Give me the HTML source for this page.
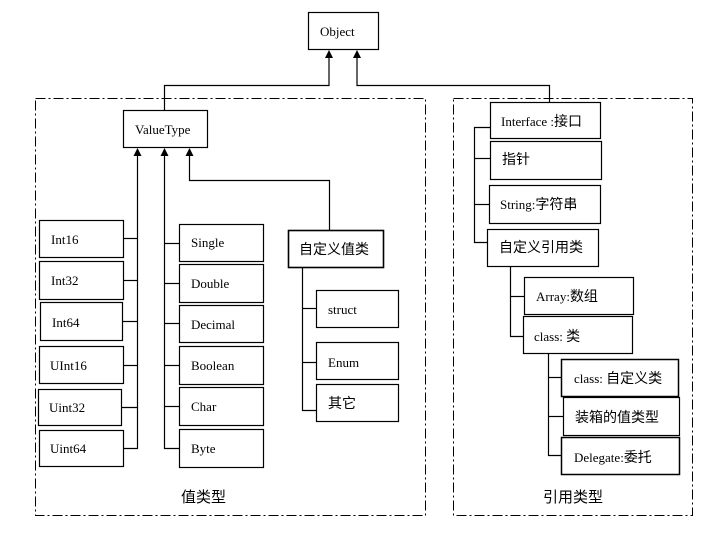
<!DOCTYPE html>
<html><head><meta charset="utf-8"><style>
html,body{margin:0;padding:0;background:#fff}
svg{display:block}
text{font-family:"Liberation Serif","Noto Serif CJK SC","Noto Sans CJK SC",serif;font-size:13px;fill:#000}
.c{font-family:"Liberation Serif","Noto Sans CJK SC",sans-serif;font-size:14px}
</style></head><body>
<svg width="720" height="540" viewBox="0 0 720 540" xmlns="http://www.w3.org/2000/svg">
<defs>
<marker id="a" markerWidth="8" markerHeight="8" refX="4" refY="0" orient="0" markerUnits="userSpaceOnUse">
</marker>
</defs>
<g fill="none" stroke="#000" stroke-width="1" stroke-dasharray="10,3,2,3">
<rect x="35.5" y="98.5" width="390" height="417"/>
<rect x="453.5" y="98.5" width="239" height="417"/>
</g>
<g fill="none" stroke="#000" stroke-width="1.2">
<!-- Object connectors -->
<polyline points="329,57 329,85.5 164.5,85.5 164.5,110"/>
<polyline points="357,57 357,85.5 549.5,85.5 549.5,102"/>
<!-- ValueType connectors -->
<polyline points="137.5,156 137.5,448.5 123,448.5"/>
<polyline points="164.5,156 164.5,448.5 179,448.5"/>
<polyline points="189.5,156 189.5,180.5 329.5,180.5 329.5,230"/>
<line x1="123" y1="238.5" x2="137.5" y2="238.5"/>
<line x1="123" y1="280.5" x2="137.5" y2="280.5"/>
<line x1="122" y1="321.5" x2="137.5" y2="321.5"/>
<line x1="123" y1="365.5" x2="137.5" y2="365.5"/>
<line x1="121" y1="407.5" x2="137.5" y2="407.5"/>
<line x1="164.5" y1="243.5" x2="179" y2="243.5"/>
<line x1="164.5" y1="283.5" x2="179" y2="283.5"/>
<line x1="164.5" y1="323.5" x2="179" y2="323.5"/>
<line x1="164.5" y1="365.5" x2="179" y2="365.5"/>
<line x1="164.5" y1="406.5" x2="179" y2="406.5"/>
<polyline points="302.5,267 302.5,410.5 316,410.5"/>
<line x1="302.5" y1="308.5" x2="316" y2="308.5"/>
<line x1="302.5" y1="362.5" x2="316" y2="362.5"/>
<!-- right -->
<polyline points="490,127.5 474.5,127.5 474.5,242.5 487,242.5"/>
<line x1="474.5" y1="158.5" x2="490" y2="158.5"/>
<line x1="474.5" y1="204.5" x2="489" y2="204.5"/>
<polyline points="510.5,266 510.5,336.5 523,336.5"/>
<line x1="510.5" y1="296.5" x2="524" y2="296.5"/>
<polyline points="548.5,353 548.5,455.5 561,455.5"/>
<line x1="548.5" y1="377.5" x2="561" y2="377.5"/>
<line x1="548.5" y1="416.5" x2="563" y2="416.5"/>
</g>
<g fill="#000">
<polygon points="329,50 325,58 333,58"/>
<polygon points="357,50 353,58 361,58"/>
<polygon points="137.5,148 133.5,156 141.5,156"/>
<polygon points="164.5,148 160.5,156 168.5,156"/>
<polygon points="189.5,148 185.5,156 193.5,156"/>
</g>
<g fill="#fff" stroke="#000" stroke-width="1.2">
<rect x="308.5" y="12.5" width="70" height="37"/>
<rect x="123.5" y="110.5" width="84" height="37"/>
<rect x="39.5" y="220.5" width="84" height="37"/>
<rect x="39.5" y="261.5" width="84" height="38"/>
<rect x="40.5" y="302.5" width="82" height="38"/>
<rect x="39.5" y="346.5" width="84" height="37"/>
<rect x="38.5" y="389.5" width="83" height="36"/>
<rect x="39.5" y="430.5" width="84" height="36"/>
<rect x="179.5" y="224.5" width="84" height="37"/>
<rect x="179.5" y="264.5" width="84" height="38"/>
<rect x="179.5" y="305.5" width="84" height="37"/>
<rect x="179.5" y="346.5" width="84" height="38"/>
<rect x="179.5" y="387.5" width="84" height="38"/>
<rect x="179.5" y="429.5" width="84" height="38"/>
<rect x="288.5" y="230.5" width="95" height="37" stroke-width="1.6"/>
<rect x="316.5" y="290.5" width="82" height="37"/>
<rect x="316.5" y="342.5" width="82" height="37"/>
<rect x="316.5" y="384.5" width="82" height="37"/>
<rect x="490.5" y="102.5" width="110" height="36"/>
<rect x="490.5" y="141.5" width="111" height="38"/>
<rect x="489.5" y="185.5" width="111" height="38"/>
<rect x="487.5" y="229.5" width="111" height="37"/>
<rect x="524.5" y="277.5" width="109" height="37"/>
<rect x="523.5" y="316.5" width="109" height="37"/>
<rect x="561.5" y="359.5" width="117" height="37" stroke-width="1.5"/>
<rect x="563.5" y="397.5" width="116" height="38"/>
<rect x="561.5" y="437.5" width="118" height="37" stroke-width="1.5"/>
</g>
<text x="320" y="36">Object</text>
<text x="135" y="134">ValueType</text>
<text x="51" y="244">Int16</text>
<text x="51" y="285">Int32</text>
<text x="52" y="327">Int64</text>
<text x="50" y="370">UInt16</text>
<text x="49" y="412">Uint32</text>
<text x="50" y="453">Uint64</text>
<text x="191" y="247">Single</text>
<text x="191" y="288">Double</text>
<text x="191" y="329">Decimal</text>
<text x="191" y="370">Boolean</text>
<text x="191" y="411">Char</text>
<text x="191" y="453">Byte</text>
<text class="c" x="299" y="254">自定义值类</text>
<text x="328" y="314">struct</text>
<text x="328" y="367">Enum</text>
<text class="c" x="328" y="408">其它</text>
<text class="c" x="181" y="502" style="font-size:15px">值类型</text>
<text x="501" y="126">Interface :<tspan class="c">接口</tspan></text>
<text class="c" x="502" y="164">指针</text>
<text x="500" y="209">String:<tspan class="c">字符串</tspan></text>
<text class="c" x="499" y="252">自定义引用类</text>
<text x="536" y="301">Array:<tspan class="c">数组</tspan></text>
<text x="534" y="341">class: <tspan class="c">类</tspan></text>
<text x="574" y="383">class: <tspan class="c">自定义类</tspan></text>
<text class="c" x="575" y="422">装箱的值类型</text>
<text x="574" y="462">Delegate:<tspan class="c">委托</tspan></text>
<text class="c" x="543" y="502" style="font-size:15px">引用类型</text>
</svg>
</body></html>
